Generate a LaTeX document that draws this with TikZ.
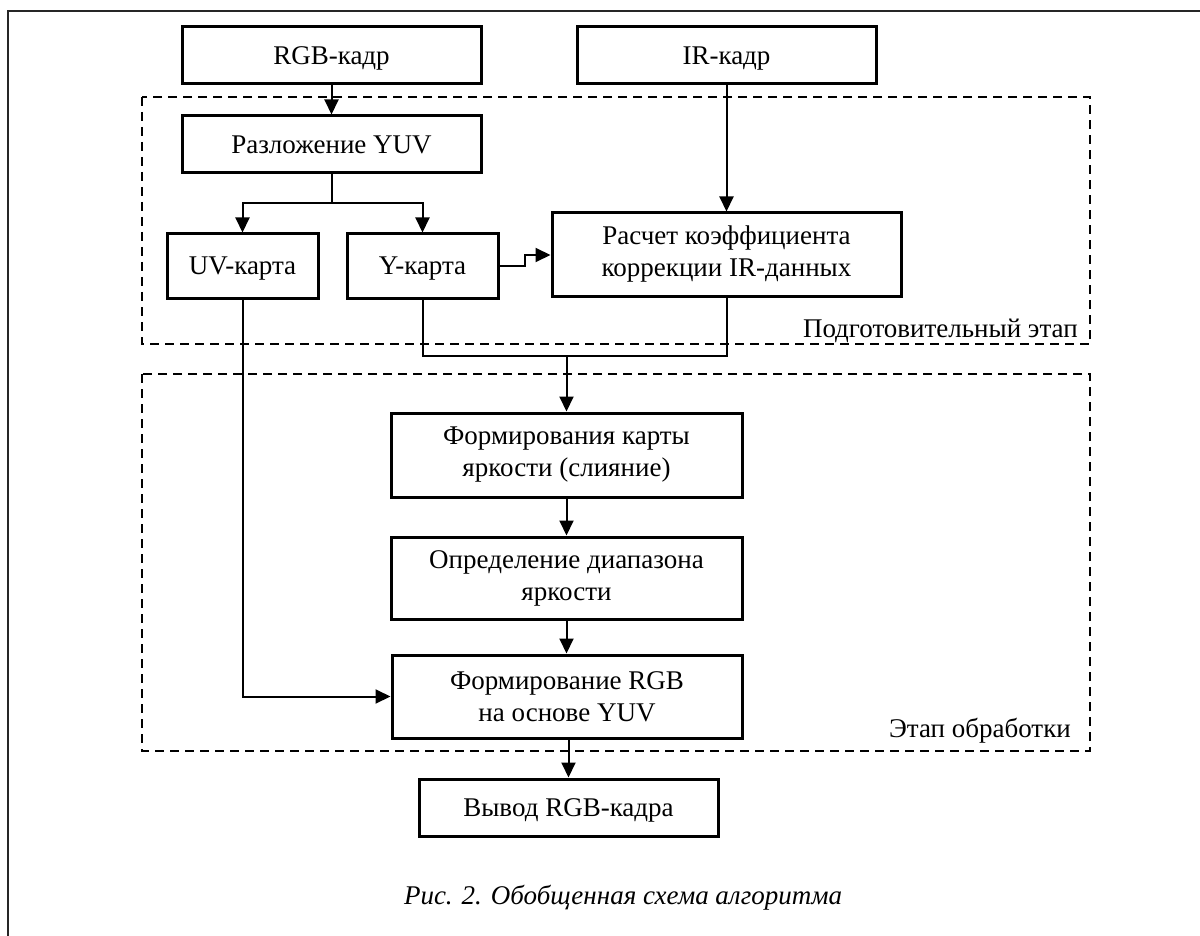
\documentclass[tikz,border=0pt]{standalone}
\usepackage{fontspec}
\setmainfont{Liberation Serif}
\usetikzlibrary{arrows.meta}
\begin{document}
\begin{tikzpicture}[x=1pt,y=-1pt,
  font=\fontsize{27}{32}\selectfont,
  blockbox/.style={draw=black, line width=3pt, align=center, inner sep=0pt, fill=white},
  oneline/.style={text height=18pt, text depth=0pt},
  conn/.style={line width=2pt, -{Triangle[length=15pt,width=14pt]}},
  plainconn/.style={line width=2pt},
  stagebox/.style={draw=black, line width=1.8pt, dash pattern=on 9pt off 6pt},
  stagelabel/.style={anchor=east, inner sep=0pt}]
\useasboundingbox (0,0) rectangle (1200,936);
\draw[line width=2.2pt, black!85] (8,936) -- (8,11) -- (1200,11);

% stage frames
\draw[stagebox] (142,97) rectangle (1090,344);
\draw[stagebox] (142,374) rectangle (1090,751);
\node[stagelabel] (lblprep) at (1078,331) {Подготовительный этап};
\node[stagelabel] (lblproc) at (1071,731) {Этап обработки};

% blocks
\node[blockbox, oneline, minimum width=299pt, minimum height=57pt] (rgb) at (331.5,55.5) {RGB-кадр};
\node[blockbox, oneline, minimum width=299pt, minimum height=57pt] (ir) at (726.5,55.5) {IR-кадр};
\node[blockbox, oneline, minimum width=299pt, minimum height=57pt] (yuv) at (331.5,144.5) {Разложение YUV};
\node[blockbox, oneline, minimum width=151pt, minimum height=64pt] (uv) at (242.5,266) {UV-карта};
\node[blockbox, oneline, minimum width=151pt, minimum height=64pt] (ymap) at (422.5,266) {Y-карта};
\node[blockbox, minimum width=349pt, minimum height=83pt] (calc) at (726.5,254.5) {Расчет коэффициента\\коррекции IR-данных};
\node[blockbox, minimum width=351pt, minimum height=84pt] (fuse) at (566.5,455) {Формирования карты\\яркости (слияние)};
\node[blockbox, minimum width=351pt, minimum height=82pt] (range) at (566.5,578) {Определение диапазона\\яркости};
\node[blockbox, minimum width=350pt, minimum height=83pt] (rgbout) at (567,696.5) {Формирование RGB\\на основе YUV};
\node[blockbox, oneline, minimum width=299pt, minimum height=57pt] (out) at (568.5,807.5) {Вывод RGB-кадра};

% coordinates for bends
\coordinate (split) at (331.5,203);
\coordinate (merge) at (566.5,356);
\coordinate (step1) at (525,266);
\coordinate (step2) at (525,255);

% connectors
\draw[conn] (rgb.south) -- (yuv.north);
\draw[conn] (ir.south) -- (calc.north);
\draw[plainconn] (yuv.south) -- (split);
\draw[conn] (split) -| (uv.north);
\draw[conn] (split) -| (ymap.north);
\draw[conn] (ymap.east) -- (step1) -- (step2) -- (calc.west |- step2);
\draw[plainconn] (ymap.south) |- (merge);
\draw[plainconn] (calc.south) |- (merge);
\draw[conn] (merge) -- (fuse.north);
\draw[conn] (fuse.south) -- (range.north);
\draw[conn] (range.south) -- (range.south |- rgbout.north);
\draw[conn] (uv.south) |- (rgbout.west);
\draw[conn] (out.north |- rgbout.south) -- (out.north);

% caption
\node[font=\fontsize{27}{32}\selectfont\itshape, inner sep=0pt] (caption) at (623,898) {Рис. 2. Обобщенная схема алгоритма};
\end{tikzpicture}
\end{document}
